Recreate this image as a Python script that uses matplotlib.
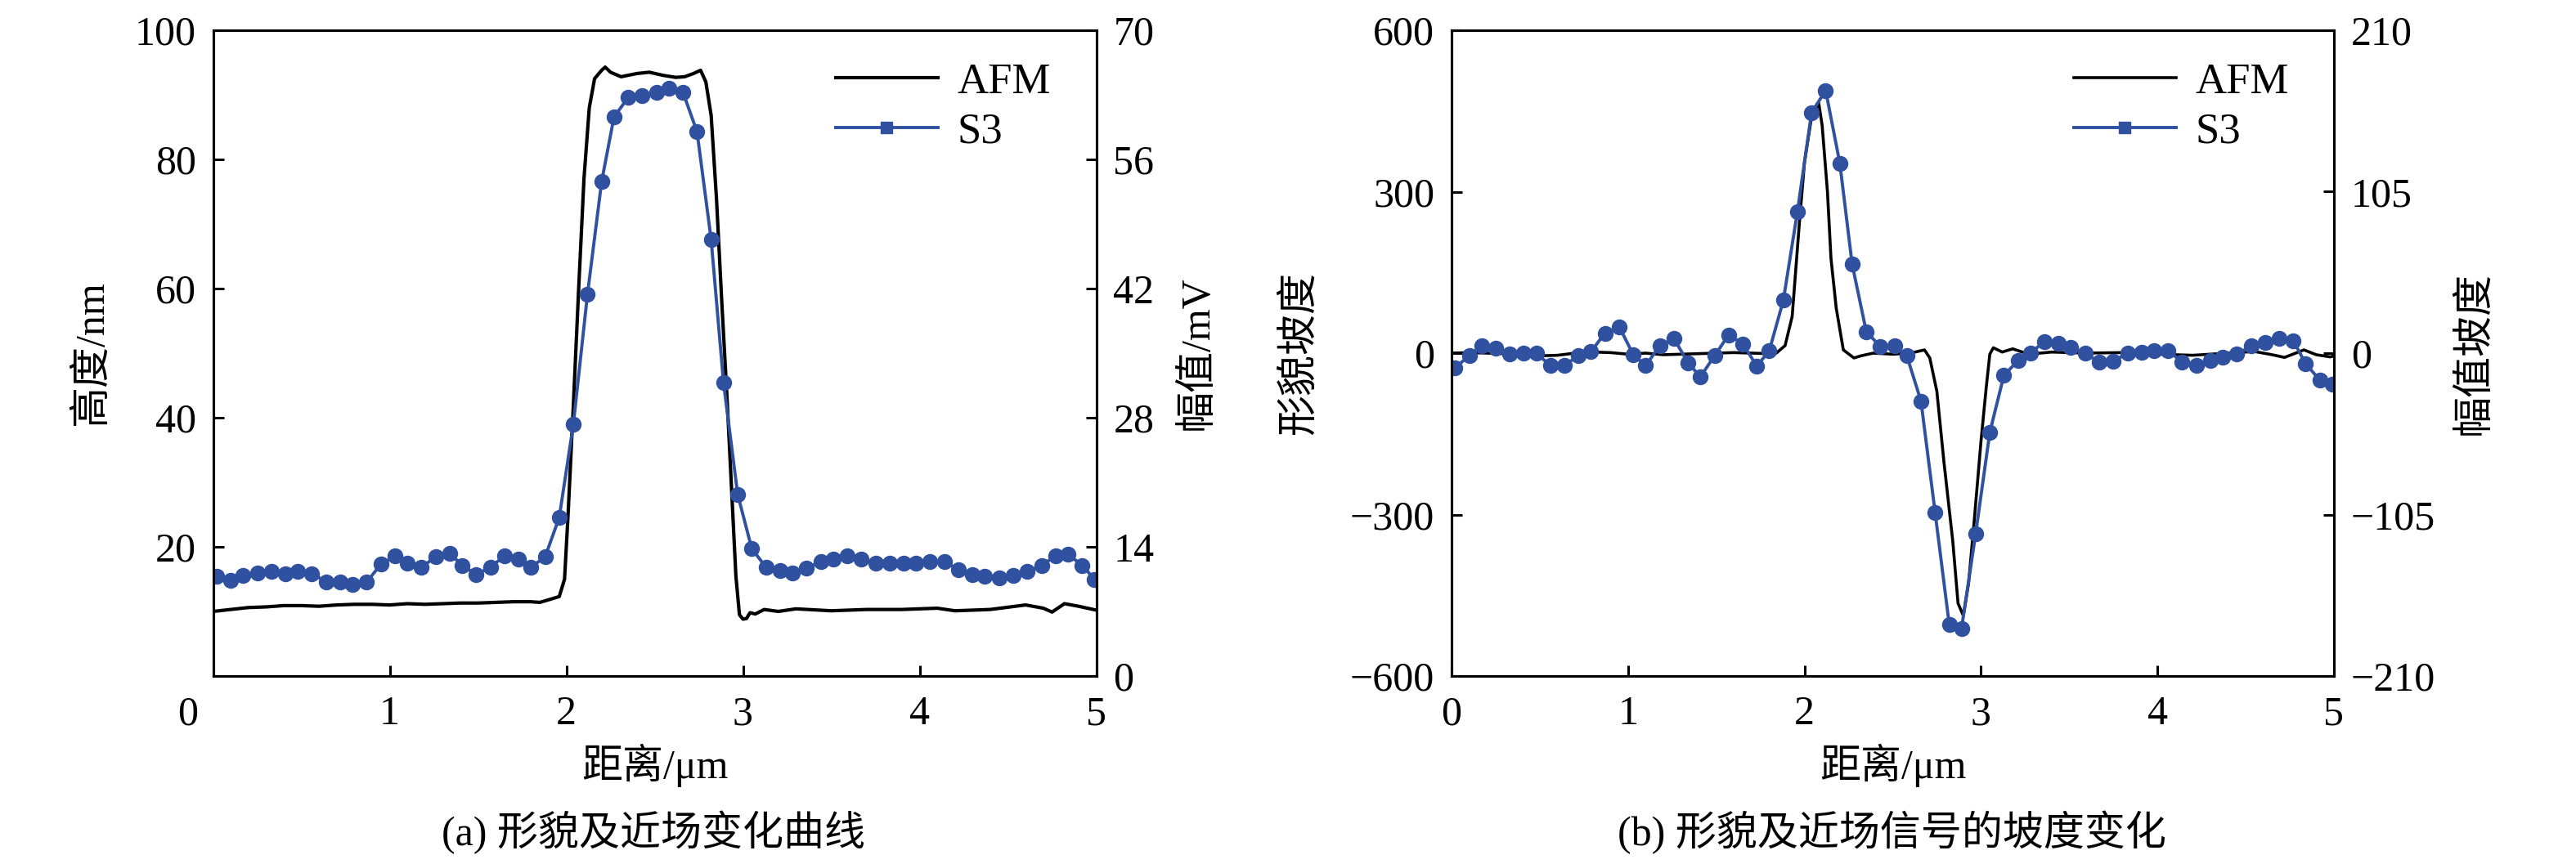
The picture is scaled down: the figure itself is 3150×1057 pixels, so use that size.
import matplotlib.pyplot as plt
from matplotlib.lines import Line2D

plt.rcParams['font.family'] = ['Liberation Serif', 'Noto Sans CJK SC']
plt.rcParams['axes.unicode_minus'] = True

BLUE = '#3050a0'

# S3 sample positions along the scan (um), same for both panels
s3_x = [0.02, 0.10, 0.17, 0.25, 0.33, 0.41, 0.48, 0.56, 0.64, 0.72,
        0.79, 0.87, 0.95, 1.03, 1.10, 1.18, 1.26, 1.34, 1.41, 1.49,
        1.57, 1.65, 1.73, 1.80, 1.88, 1.96, 2.04, 2.12, 2.20, 2.27,
        2.35, 2.43, 2.51, 2.58, 2.66, 2.74, 2.82, 2.89, 2.97, 3.05,
        3.13, 3.21, 3.28, 3.36, 3.44, 3.51, 3.59, 3.67, 3.75, 3.83,
        3.91, 3.98, 4.06, 4.14, 4.22, 4.30, 4.37, 4.45, 4.53, 4.61,
        4.69, 4.77, 4.84, 4.92, 4.99]

# (a) near-field amplitude, mV
s3_amp = [10.8, 10.4, 10.9, 11.2, 11.3, 11.1, 11.3, 11.1, 10.2, 10.2,
          9.9, 10.2, 12.1, 13.0, 12.2, 11.8, 12.9, 13.3, 12.0, 11.0,
          11.8, 13.0, 12.7, 11.8, 12.9, 17.2, 27.3, 41.4, 53.6, 60.6,
          62.7, 62.9, 63.3, 63.7, 63.3, 59.0, 47.3, 31.8, 19.7, 13.8,
          11.8, 11.4, 11.2, 11.7, 12.4, 12.7, 13.0, 12.7, 12.2, 12.2,
          12.2, 12.2, 12.4, 12.4, 11.5, 11.0, 10.8, 10.6, 10.9, 11.3,
          12.0, 13.0, 13.2, 12.0, 10.5]

# (a) AFM height profile, nm
afm_x = [0.0, 0.1, 0.2, 0.3, 0.4, 0.5, 0.6, 0.7, 0.8, 0.9, 1.0, 1.1,
         1.2, 1.3, 1.4, 1.5, 1.6, 1.7, 1.8, 1.85, 1.9, 1.96, 1.99, 2.01,
         2.04, 2.07, 2.10, 2.13, 2.16, 2.20, 2.22, 2.25, 2.31, 2.40, 2.47,
         2.55, 2.62, 2.67, 2.72, 2.76, 2.79, 2.82, 2.85, 2.88, 2.91, 2.93,
         2.96, 2.98, 3.00, 3.02, 3.04, 3.07, 3.12, 3.2, 3.3, 3.5, 3.7,
         3.9, 4.1, 4.2, 4.4, 4.6, 4.7, 4.75, 4.82, 4.9, 5.0]
afm_height = [10.0, 10.3, 10.6, 10.7, 10.9, 10.9, 10.8, 11.0, 11.1, 11.1,
              11.0, 11.2, 11.1, 11.2, 11.3, 11.3, 11.4, 11.5, 11.5, 11.4,
              11.8, 12.3, 15.0, 25.0, 42.0, 60.0, 77.0, 88.0, 92.5, 93.8,
              94.3, 93.5, 92.8, 93.3, 93.5, 93.0, 92.7, 92.8, 93.3, 93.8,
              92.0, 86.8, 74.0, 58.0, 43.0, 32.0, 15.5, 9.5, 8.8, 8.9,
              9.8, 9.6, 10.3, 10.0, 10.4, 10.1, 10.3, 10.3, 10.5, 10.1,
              10.3, 11.0, 10.5, 9.9, 11.2, 10.8, 10.2]

# (b) slope of the near-field signal
s3_slope = [-9.8, -1.4, 4.6, 3.2, -0.7, 0.0, 0.0, -8.1, -8.1, -1.4,
            1.1, 13.0, 17.2, -1.1, -8.1, 4.9, 9.5, -6.3, -15.4, -1.8,
            11.9, 6.0, -8.4, 1.4, 34.3, 92.1, 156.5, 170.8, 123.6, 57.8,
            14.0, 4.2, 4.9, -1.8, -31.2, -103.6, -176.4, -178.9, -117.3, -51.5,
            -14.4, -4.9, 0.0, 7.7, 6.3, 3.9, 0.0, -6.0, -5.3, 0.0,
            0.7, 1.8, 1.8, -6.0, -8.1, -4.9, -2.8, -0.7, 4.6, 6.7,
            9.8, 8.1, -7.0, -17.5, -20.3]

# (b) slope of the AFM profile
afm_slope_x = [0.0, 0.1, 0.2, 0.3, 0.4, 0.5, 0.6, 0.7, 0.8, 0.9, 1.0, 1.1,
               1.2, 1.3, 1.4, 1.5, 1.6, 1.7, 1.8, 1.84, 1.89, 1.93, 1.97,
               2.00, 2.04, 2.08, 2.10, 2.13, 2.15, 2.18, 2.22, 2.28, 2.32,
               2.39, 2.5, 2.6, 2.68, 2.71, 2.75, 2.79, 2.84, 2.87, 2.90,
               2.93, 2.96, 3.00, 3.03, 3.05, 3.07, 3.12, 3.18, 3.27, 3.4,
               3.6, 3.8, 4.0, 4.2, 4.4, 4.55, 4.65, 4.72, 4.83, 4.9, 4.98, 5.0]
afm_slope = [0, 1, 0, -1, -3, -5, -4, 0, 2, 1, -2, 0,
             -3, -2, -1, 0, 1, 0, -1, 0, 14, 68, 238,
             355, 439, 466, 423, 300, 176, 83, 6, -9, -5,
             0, -2, 0, 6, -9, -71, -202, -349, -465, -488,
             -427, -318, -164, -63, -2, 10, 2, 8, -2, 2,
             0, 1, -2, -4, 0, 3, -3, -8, 6, -3, -7, -5]

W, H = 3150, 1057
FS = 36


def style_pair(ax, ax2):
    for a in (ax, ax2):
        for sp in a.spines.values():
            sp.set_linewidth(2.2)
    ax.tick_params(axis='x', direction='in', length=9.5, width=2.2,
                   labelsize=FS, pad=17, top=False)
    ax.tick_params(axis='y', direction='in', length=9.5, width=2.2,
                   labelsize=FS, pad=15, right=False)
    ax2.tick_params(axis='y', direction='in', length=9.5, width=2.2,
                    labelsize=FS, pad=15, left=False)


def add_legend(ax, ax2, afm_line):
    s3_handle = Line2D([], [], color=BLUE, lw=2.8, marker='s', markersize=10)
    ax2.legend([afm_line, s3_handle], ['AFM', 'S3'], loc='upper left',
               bbox_to_anchor=(0.705, 0.95), frameon=False, fontsize=38,
               borderpad=0, borderaxespad=0, handlelength=2.37,
               handletextpad=0.45, labelspacing=0.25)


fig = plt.figure(figsize=(W / 100, H / 100), dpi=100)
bottom = (H - 827) / H
height = 790 / H

# (a) topography and near-field amplitude
ax = fig.add_axes([260.5 / W, bottom, 1080 / W, height])
ax2 = ax.twinx()
afm_line, = ax.plot(afm_x, afm_height, color='black', lw=3)
ax2.plot(s3_x, s3_amp, color=BLUE, lw=2.8, marker='o', markersize=13)
ax.set_xlim(0, 5)
ax.set_ylim(0, 100)
ax2.set_ylim(0, 70)
ax.set_xticks([0, 1, 2, 3, 4, 5])
ax.set_xticklabels(['', '1', '2', '3', '4', '5'])
ax.set_yticks([20, 40, 60, 80, 100])
ax2.set_yticks([0, 14, 28, 42, 56, 70])
style_pair(ax, ax2)
ax.annotate('0', xy=(0, 0), xycoords=('data', 'axes fraction'),
            xytext=(-22, -17), textcoords='offset points',
            ha='center', va='top', fontsize=FS)
ax.set_xlabel('距离/μm', fontsize=FS)
ax.xaxis.set_label_coords(0.5, -0.139)
ax.xaxis.label.set_va('center')
ax.set_ylabel('高度/nm', fontsize=FS)
ax.yaxis.set_label_coords(-0.137, 0.5)
ax.yaxis.label.set_va('center')
ax2.set_ylabel('幅值/mV', fontsize=FS)
ax2.yaxis.set_label_coords(1.115, 0.5)
ax2.yaxis.label.set_va('center')
add_legend(ax, ax2, afm_line)

# (b) slopes
bx = fig.add_axes([1775 / W, bottom, 1079 / W, height])
bx2 = bx.twinx()
afm_line_b, = bx.plot(afm_slope_x, afm_slope, color='black', lw=2.6)
bx2.plot(s3_x, s3_slope, color=BLUE, lw=2.8, marker='o', markersize=13)
bx.set_xlim(0, 5)
bx.set_ylim(-600, 600)
bx2.set_ylim(-210, 210)
bx.set_xticks([0, 1, 2, 3, 4, 5])
bx.set_yticks([-600, -300, 0, 300, 600])
bx2.set_yticks([-210, -105, 0, 105, 210])
style_pair(bx, bx2)
bx.set_xlabel('距离/μm', fontsize=FS)
bx.xaxis.set_label_coords(0.5, -0.139)
bx.xaxis.label.set_va('center')
bx.set_ylabel('形貌坡度', fontsize=FS)
bx.yaxis.set_label_coords(-0.1715, 0.5)
bx.yaxis.label.set_va('center')
bx2.set_ylabel('幅值坡度', fontsize=FS)
bx2.yaxis.set_label_coords(1.16, 0.5)
bx2.yaxis.label.set_va('center')
add_legend(bx, bx2, afm_line_b)

fig.text(799 / W, 1 - 1018 / H, '(a) 形貌及近场变化曲线', fontsize=FS,
         ha='center', va='center')
fig.text(2313 / W, 1 - 1018 / H, '(b) 形貌及近场信号的坡度变化', fontsize=FS,
         ha='center', va='center')

fig.savefig('out.png', dpi=100)
